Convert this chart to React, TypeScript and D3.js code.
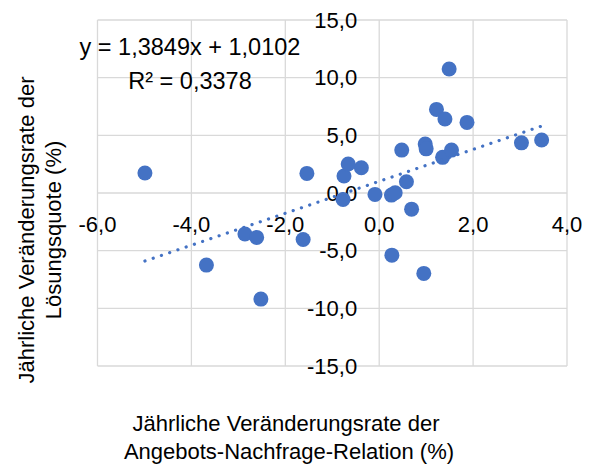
import React, { useEffect, useRef } from "react";
import * as d3 from "d3";

const WIDTH = 589;
const HEIGHT = 464;

// x: jährliche Veränderungsrate der Angebots-Nachfrage-Relation (%)
const xValues = [
  -4.99, -3.68, -2.86, -2.61, -2.52, -1.62, -1.54, -0.77, -0.75, -0.66,
  -0.38, -0.09, 0.26, 0.34, 0.27, 0.48, 0.58, 0.69, 0.95, 0.98,
  1.0, 1.22, 1.35, 1.4, 1.49, 1.54, 1.87, 3.03, 3.46
];
// y: jährliche Veränderungsrate der Lösungsquote (%)
const yValues = [
  1.73, -6.25, -3.56, -3.85, -9.2, -4.03, 1.7, -0.56, 1.47, 2.51,
  2.19, -0.12, -0.18, 0.02, -5.39, 3.72, 0.97, -1.4, -6.97, 4.24,
  3.83, 7.25, 3.09, 6.41, 10.75, 3.72, 6.12, 4.35, 4.59
];

const xTicks = [-6, -4, -2, 0, 2, 4];
const yTicks = [-15, -10, -5, 0, 5, 10, 15];

const slope = 1.3849;
const intercept = 1.0102;
const equationLabel = "y = 1,3849x + 1,0102";
const r2Label = "R² = 0,3378";

const xTitle = ["Jährliche Veränderungsrate der", "Angebots-Nachfrage-Relation (%)"];
const yTitle = ["Jährliche Veränderungsrate der", "Lösungsquote (%)"];

const FONT = "'Liberation Sans', Arial, sans-serif";
const BLUE = "#4472C4";
const GRID = "#d9d9d9";

const fmt = (v: number) => v.toFixed(1).replace(".", ",");

export default function App() {
  const ref = useRef<SVGSVGElement>(null);

  useEffect(() => {
    const svg = d3.select(ref.current);
    svg.selectAll("*").remove();

    const x = d3.scaleLinear().domain([-6, 4]).range([97.5, 567]);
    const y = d3.scaleLinear().domain([-15, 15]).range([366, 20]);

    // gridlines
    svg
      .append("g")
      .selectAll("line")
      .data(xTicks)
      .enter()
      .append("line")
      .attr("x1", (d) => x(d))
      .attr("x2", (d) => x(d))
      .attr("y1", y(15))
      .attr("y2", y(-15))
      .attr("stroke", GRID)
      .attr("stroke-width", 1.3);

    svg
      .append("g")
      .selectAll("line")
      .data(yTicks)
      .enter()
      .append("line")
      .attr("x1", x(-6))
      .attr("x2", x(4))
      .attr("y1", (d) => y(d))
      .attr("y2", (d) => y(d))
      .attr("stroke", GRID)
      .attr("stroke-width", 1.3);

    // tick labels
    svg
      .append("g")
      .selectAll("text")
      .data(yTicks)
      .enter()
      .append("text")
      .attr("x", x(0) - 22)
      .attr("y", (d) => y(d))
      .attr("dy", "0.35em")
      .attr("text-anchor", "end")
      .style("font-family", FONT)
      .style("font-size", "22px")
      .attr("fill", "#000")
      .text((d) => fmt(d));

    svg
      .append("g")
      .selectAll("text")
      .data(xTicks)
      .enter()
      .append("text")
      .attr("x", (d) => x(d))
      .attr("y", y(0) + 31)
      .attr("dy", "0.35em")
      .attr("text-anchor", "middle")
      .style("font-family", FONT)
      .style("font-size", "22px")
      .attr("fill", "#000")
      .text((d) => fmt(d));

    // points
    const pts = xValues.map((v, i) => [v, yValues[i]] as [number, number]);
    svg
      .append("g")
      .selectAll("circle")
      .data(pts)
      .enter()
      .append("circle")
      .attr("cx", (d) => x(d[0]))
      .attr("cy", (d) => y(d[1]))
      .attr("r", 7.5)
      .attr("fill", BLUE);

    // linear trendline
    const xMin = d3.min(xValues) as number;
    const xMax = d3.max(xValues) as number;
    const line = d3
      .line<number>()
      .x((d) => x(d))
      .y((d) => y(slope * d + intercept));
    svg
      .append("path")
      .attr("d", line([xMin, xMax]))
      .attr("fill", "none")
      .attr("stroke", BLUE)
      .attr("stroke-width", 3.2)
      .attr("stroke-linecap", "round")
      .attr("stroke-dasharray", "0.1 8.6");

    // equation
    const eq = svg
      .append("g")
      .style("font-family", FONT)
      .style("font-size", "23.5px")
      .attr("text-anchor", "middle")
      .attr("fill", "#000");
    eq.append("text").attr("x", 190).attr("y", 47).attr("dy", "0.35em").text(equationLabel);
    eq.append("text").attr("x", 190).attr("y", 81).attr("dy", "0.35em").text(r2Label);

    // axis titles
    const xt = svg
      .append("g")
      .style("font-family", FONT)
      .style("font-size", "22px")
      .attr("text-anchor", "middle")
      .attr("fill", "#000");
    xt.append("text").attr("x", 286).attr("y", 423).attr("dy", "0.35em").text(xTitle[0]);
    xt.append("text").attr("x", 289).attr("y", 451).attr("dy", "0.35em").text(xTitle[1]);

    const yt = svg
      .append("g")
      .attr("transform", "translate(0,230) rotate(-90)")
      .style("font-family", FONT)
      .style("font-size", "22px")
      .attr("text-anchor", "middle")
      .attr("fill", "#000");
    yt.append("text").attr("x", 0).attr("y", 26).attr("dy", "0.35em").text(yTitle[0]);
    yt.append("text").attr("x", 0).attr("y", 53).attr("dy", "0.35em").text(yTitle[1]);
  }, []);

  return (
    <svg
      ref={ref}
      width={WIDTH}
      height={HEIGHT}
      style={{ position: "absolute", left: 0, top: 0, background: "#fff" }}
    ></svg>
  );
}
